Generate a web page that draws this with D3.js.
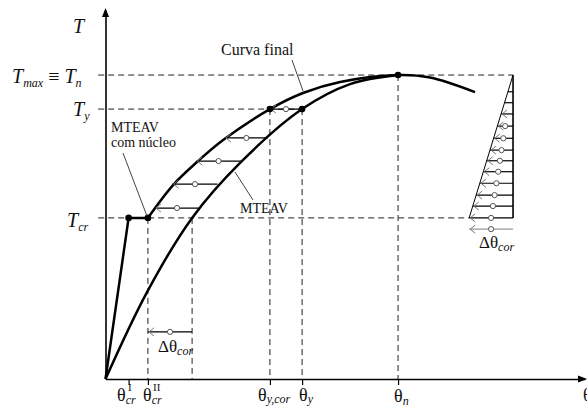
<!DOCTYPE html>
<html>
<head>
<meta charset="utf-8">
<script src="https://cdn.jsdelivr.net/npm/d3@7"></script>
<style>
  body { margin: 0; background: #fff; }
  svg text { font-family: "Liberation Serif", "DejaVu Serif", serif; fill: #111; }
</style>
</head>
<body>
<svg id="chart" width="587" height="407"></svg>
<script>
// rotation theta and torque T, both normalised: theta_n = 1, T_max = 1
var thetaTicks = [0.079, 0.145, 0.562, 0.672, 1.0];
var thetaCorEnd = 0.296;
var tCr = 0.53, tY = 0.888, tMax = 1.0;

// curva final (upper)
var curvaFinal = [[0.145, 0.53], [0.231, 0.638], [0.313, 0.714], [0.402, 0.786], [0.562, 0.888],
    [0.675, 0.941], [0.802, 0.977], [1.0, 1.0], [1.109, 0.992], [1.263, 0.944]];
// MTEAV (lower)
var mteav = [[0, 0], [0.142, 0.286], [0.296, 0.53], [0.460, 0.711], [0.672, 0.888],
    [0.836, 0.970], [1.0, 1.0]];
// MTEAV com nucleo
var nucleo = [[0, 0], [0.079, 0.53], [0.145, 0.53]];
var keyPoints = [[0.079, 0.53], [0.145, 0.53], [0.562, 0.888], [0.672, 0.888], [1.0, 1.0]];

// correction arrows between the curves
var corT = [0.5625, 0.641, 0.717, 0.793, 0.888];
var corFrom = [0.320, 0.383, 0.463, 0.555, 0.672];
var corTo = [0.169, 0.229, 0.310, 0.408, 0.562];

// distribution triangle on the right
var triRight = 1.393, triLeft = 1.243;
var triRows = [0.945, 0.909, 0.872, 0.832, 0.792, 0.753, 0.718, 0.682, 0.644, 0.605, 0.569, 0.53];

var svg = d3.select("#chart");

var x = d3.scaleLinear().domain([0, 1.639]).range([105.5, 585]);
var y = d3.scaleLinear().domain([0, 1.214]).range([379, 10]);

//dashed guides
var dash = "6,4";
function hGuide(t, x1) {
    svg.append("line").attr("x1", x(-0.025)).attr("x2", x(x1))
        .attr("y1", y(t)).attr("y2", y(t))
        .attr("stroke", "#222").attr("stroke-width", 1).attr("stroke-dasharray", dash);
}
function vGuide(th, t) {
    svg.append("line").attr("x1", x(th)).attr("x2", x(th))
        .attr("y1", y(t)).attr("y2", y(0))
        .attr("stroke", "#222").attr("stroke-width", 1).attr("stroke-dasharray", dash);
}
hGuide(tMax, triRight);
hGuide(tY, thetaTicks[3]);
hGuide(tCr, triLeft);
vGuide(thetaTicks[1], tCr);
vGuide(thetaCorEnd, tCr);
vGuide(thetaTicks[2], tY);
vGuide(thetaTicks[3], tY);
vGuide(thetaTicks[4], tMax);

//axes
var xAxis = svg.append("g").attr("transform", "translate(0," + y(0) + ")")
    .call(d3.axisBottom(x).tickValues(thetaTicks).tickSize(6).tickSizeOuter(0).tickFormat(""));
xAxis.select(".domain").attr("stroke", "#000").attr("stroke-width", 1.6);
xAxis.selectAll(".tick line").attr("stroke", "#000").attr("stroke-width", 1.2);

var yAxis = svg.append("g").attr("transform", "translate(" + x(0) + ",0)")
    .call(d3.axisLeft(y).tickValues([]).tickSizeOuter(0));
yAxis.select(".domain").attr("stroke", "#000").attr("stroke-width", 1.6);

svg.append("path")
    .attr("d", "M" + (x(1.639) + 2) + "," + y(0) + "l-9,-3.5v7z").attr("fill", "#000");
svg.append("path")
    .attr("d", "M" + x(0) + "," + (y(1.214) - 2) + "l-3.5,9h7z").attr("fill", "#000");

//curves
var line = d3.line().x(function (d) { return x(d[0]); }).y(function (d) { return y(d[1]); });
var smooth = d3.line().x(function (d) { return x(d[0]); }).y(function (d) { return y(d[1]); })
    .curve(d3.curveCatmullRom.alpha(0.5));

svg.append("path").attr("d", smooth(mteav))
    .attr("fill", "none").attr("stroke", "#000").attr("stroke-width", 2.5);
svg.append("path").attr("d", smooth(curvaFinal))
    .attr("fill", "none").attr("stroke", "#000").attr("stroke-width", 2.5);
svg.append("path").attr("d", line(nucleo))
    .attr("fill", "none").attr("stroke", "#000").attr("stroke-width", 2.5);

//arrows with the small circle in the middle
function corArrow(from, to, t, lineColor) {
    var x1 = x(from), x2 = x(to), yy = y(t);
    var len = Math.abs(x1 - x2);
    svg.append("line").attr("x1", x2).attr("x2", x1).attr("y1", yy).attr("y2", yy)
        .attr("stroke", lineColor).attr("stroke-width", 1.2);
    if (len > 10) {
        svg.append("path").attr("d", "M" + (x2 + 6) + "," + (yy - 4) + "L" + (x2 + 1) + "," + yy + "L" + (x2 + 6) + "," + (yy + 4))
            .attr("fill", "none").attr("stroke", "#777").attr("stroke-width", 1);
    }
    if (len > 14) {
        svg.append("circle").attr("cx", (x1 + x2) / 2).attr("cy", yy).attr("r", 2.6)
            .attr("fill", "#fff").attr("stroke", "#555").attr("stroke-width", 1);
    }
}
for (var i = 0; i < corT.length; i++) {
    corArrow(corFrom[i], corTo[i], corT[i], "#000");
}
corArrow(thetaCorEnd, thetaTicks[1], 0.155, "#000");

//triangle
svg.append("line").attr("x1", x(triRight)).attr("x2", x(triRight))
    .attr("y1", y(tMax)).attr("y2", y(tCr)).attr("stroke", "#000").attr("stroke-width", 1.6);
svg.append("line").attr("x1", x(triRight)).attr("x2", x(triLeft))
    .attr("y1", y(tMax)).attr("y2", y(tCr)).attr("stroke", "#000").attr("stroke-width", 1);
triRows.forEach(function (t) {
    var hyp = triLeft + (triRight - triLeft) * (t - tCr) / (tMax - tCr);
    corArrow(triRight, hyp, t, "#000");
});
corArrow(triRight, triLeft, 0.493, "#999");

//points
svg.selectAll("circle.pt").data(keyPoints).enter().append("circle").attr("class", "pt")
    .attr("cx", function (d) { return x(d[0]); })
    .attr("cy", function (d) { return y(d[1]); })
    .attr("r", 3.3).attr("fill", "#000");

//leader lines
function leader(x1, y1, x2, y2) {
    svg.append("line").attr("x1", x1).attr("y1", y1).attr("x2", x2).attr("y2", y2)
        .attr("stroke", "#444").attr("stroke-width", 1);
}
leader(123, 153, x(thetaTicks[1]) - 1, y(tCr) - 2);
leader(235, 172, 253, 200);
leader(292, 60, 303, 91);

//text
function mathText(x0, y0, parts) {
    var t = svg.append("text").attr("x", x0).attr("y", y0);
    parts.forEach(function (p) {
        var s = t.append("tspan").text(p.s)
            .attr("font-size", p.size)
            .attr("y", y0 + (p.dy || 0));
        if (p.it) s.attr("font-style", "italic");
        if (p.x != null) s.attr("x", p.x);
    });
}
mathText(73, 33, [{ s: "T", size: 20, it: true }]);
mathText(12, 83, [{ s: "T", size: 20, it: true }, { s: "max", size: 12, it: true, dy: 4 },
    { s: " \u2261 ", size: 20 }, { s: "T", size: 20, it: true }, { s: "n", size: 12, it: true, dy: 4 }]);
mathText(73, 116, [{ s: "T", size: 20, it: true }, { s: "y", size: 12, it: true, dy: 4 }]);
mathText(67, 227, [{ s: "T", size: 20, it: true }, { s: "cr", size: 12, it: true, dy: 4 }]);

mathText(117, 401, [{ s: "\u03b8", size: 18 }, { s: "cr", size: 12, it: true, dy: 3 },
    { s: "I", size: 11, x: 128, dy: -10 }]);
mathText(143, 401, [{ s: "\u03b8", size: 18 }, { s: "cr", size: 12, it: true, dy: 3 },
    { s: "II", size: 11, x: 153, dy: -10 }]);
mathText(258, 401, [{ s: "\u03b8", size: 18 }, { s: "y,cor", size: 12, it: true, dy: 2 }]);
mathText(299, 401, [{ s: "\u03b8", size: 18 }, { s: "y", size: 12, it: true, dy: 2 }]);
mathText(394, 402, [{ s: "\u03b8", size: 18 }, { s: "n", size: 12, it: true, dy: 3 }]);
mathText(583, 401, [{ s: "\u03b8", size: 18 }]);

mathText(158, 352, [{ s: "\u0394\u03b8", size: 17 }, { s: "cor", size: 12, it: true, dy: 3 }]);
mathText(479, 248, [{ s: "\u0394\u03b8", size: 17 }, { s: "cor", size: 12, it: true, dy: 3 }]);

mathText(111, 132, [{ s: "MTEAV", size: 14 }]);
mathText(111, 147, [{ s: "com n\u00facleo", size: 14 }]);
mathText(240, 213, [{ s: "MTEAV", size: 14 }]);
mathText(221, 55, [{ s: "Curva final", size: 16 }]);
</script>
</body>
</html>
